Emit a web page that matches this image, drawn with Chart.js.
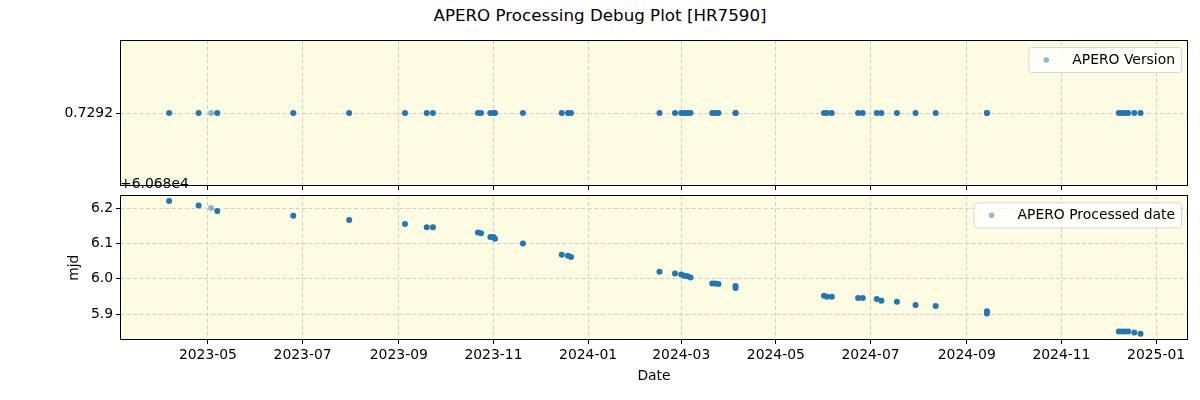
<!DOCTYPE html>
<html lang="en">
<head>
  <meta charset="UTF-8">
  <title>APERO Processing Debug Plot [HR7590]</title>
  <script src="https://cdn.jsdelivr.net/npm/chart.js"></script>
  <style>
    body { margin: 0; background: #ffffff; }
    #wrap { position: relative; width: 1200px; height: 400px; font-family: "DejaVu Sans", sans-serif; }
    #wrap canvas { position: absolute; left: 0; }
    #title { position: absolute; top: 5px; left: 0; width: 1200px; text-align: center; font-size: 16.7px; color: #000; }
    #offset { position: absolute; top: 175px; left: 120px; font-size: 13.9px; color: #000; z-index: 5; }
  </style>
</head>
<body>
  <div id="wrap">
    <div id="title">APERO Processing Debug Plot [HR7590]</div>
    <canvas id="versionChart" width="1200" height="200" style="top:0"></canvas>
    <canvas id="mjdChart" width="1200" height="216" style="top:184px"></canvas>
    <div id="offset">+6.068e4</div>
  </div>

  <script>
    // observation dates (one entry per processed file)
    const obsDates = [
      '2023-04-06', '2023-04-25', '2023-05-03', '2023-05-07', '2023-06-25', '2023-07-31',
      '2023-09-05', '2023-09-19', '2023-09-23', '2023-10-22', '2023-10-24', '2023-10-30',
      '2023-11-01', '2023-11-02', '2023-11-20', '2023-12-15', '2023-12-19', '2023-12-21',
      '2024-02-16', '2024-02-26', '2024-03-01', '2024-03-03', '2024-03-05', '2024-03-07',
      '2024-03-21', '2024-03-23', '2024-03-25', '2024-04-05', '2024-04-05', '2024-06-01',
      '2024-06-03', '2024-06-06', '2024-06-23', '2024-06-26', '2024-07-05', '2024-07-08',
      '2024-07-18', '2024-07-30', '2024-08-12', '2024-09-14', '2024-09-14', '2024-12-08',
      '2024-12-10', '2024-12-12', '2024-12-14', '2024-12-18', '2024-12-22'
    ];

    // APERO version per file
    const versionValues = [
      0.7292, 0.7292, 0.7292, 0.7292, 0.7292, 0.7292, 0.7292, 0.7292, 0.7292, 0.7292,
      0.7292, 0.7292, 0.7292, 0.7292, 0.7292, 0.7292, 0.7292, 0.7292, 0.7292, 0.7292,
      0.7292, 0.7292, 0.7292, 0.7292, 0.7292, 0.7292, 0.7292, 0.7292, 0.7292, 0.7292,
      0.7292, 0.7292, 0.7292, 0.7292, 0.7292, 0.7292, 0.7292, 0.7292, 0.7292, 0.7292,
      0.7292, 0.7292, 0.7292, 0.7292, 0.7292, 0.7292, 0.7292
    ];

    // APERO processed date (mjd)
    const processedMjd = [
      60686.220, 60686.207, 60686.200, 60686.192, 60686.178, 60686.166,
      60686.155, 60686.146, 60686.146, 60686.131, 60686.129, 60686.118,
      60686.118, 60686.113, 60686.100, 60686.068, 60686.065, 60686.062,
      60686.020, 60686.015, 60686.012, 60686.009, 60686.007, 60686.004,
      60685.987, 60685.987, 60685.985, 60685.980, 60685.974, 60685.952,
      60685.949, 60685.949, 60685.946, 60685.946, 60685.943, 60685.938,
      60685.935, 60685.926, 60685.923, 60685.908, 60685.902, 60685.851,
      60685.851, 60685.851, 60685.851, 60685.848, 60685.845
    ];

    // how many files sit on top of each other at that point (1 = lone, lighter dot)
    const overlap = [
      2, 2, 1, 2, 2, 2, 2, 2, 2, 2, 2, 2, 2, 2, 2, 2, 2, 2, 2, 2, 2, 2, 2, 2,
      2, 2, 2, 2, 2, 2, 2, 2, 2, 2, 2, 2, 2, 2, 2, 2, 2, 2, 2, 2, 2, 2, 2
    ];

    const monthTicks = [
      '2023-05-01', '2023-07-01', '2023-09-01', '2023-11-01', '2024-01-01', '2024-03-01',
      '2024-05-01', '2024-07-01', '2024-09-01', '2024-11-01', '2025-01-01'
    ];
    const mjdTicks = [60685.9, 60686.0, 60686.1, 60686.2];
    const mjdOffset = 60680;

    const xMin = Date.parse('2023-03-05T08:00:00Z');
    const xMax = Date.parse('2025-01-21T14:00:00Z');

    const FONT = 'DejaVu Sans';
    const BLUE = 'rgba(31,119,180,1)';
    const BLUE_LIGHT = 'rgba(31,119,180,0.5)';

    function pointColor(ctx) {
      return overlap[ctx.dataIndex] > 1 ? BLUE : BLUE_LIGHT;
    }

    function fmtMonth(v) {
      const d = new Date(v);
      const m = String(d.getUTCMonth() + 1).padStart(2, '0');
      return d.getUTCFullYear() + '-' + m;
    }

    // background colour + black frame around the plot area
    const framePlugin = {
      id: 'frame',
      beforeDraw(chart) {
        const a = chart.chartArea, c = chart.ctx;
        c.save();
        c.fillStyle = '#fdfce2';
        c.fillRect(a.left, a.top, a.right - a.left, a.bottom - a.top);
        c.restore();
      },
      afterDraw(chart) {
        const a = chart.chartArea, c = chart.ctx;
        c.save();
        c.strokeStyle = '#000';
        c.lineWidth = 1;
        c.strokeRect(Math.round(a.left) + 0.5, Math.round(a.top) + 0.5,
          Math.round(a.right - a.left) - 1, Math.round(a.bottom - a.top) - 1);
        c.restore();
      }
    };

    // matplotlib style legend box in the upper right corner
    const boxLegend = {
      id: 'boxLegend',
      afterDraw(chart, args, opts) {
        const a = chart.chartArea, c = chart.ctx;
        c.save();
        c.font = '13.9px "' + FONT + '"';
        const tw = c.measureText(opts.text).width;
        const w = 44 + tw + 6;
        const h = 25;
        const x = a.right - 7 - w;
        const y = a.top + 7;
        c.beginPath();
        c.roundRect(x + 0.5, y + 0.5, w, h, 3);
        c.fillStyle = 'rgba(255,255,255,0.8)';
        c.fill();
        c.strokeStyle = '#d6d6d6';
        c.lineWidth = 1;
        c.stroke();
        c.beginPath();
        c.arc(x + 18, y + h / 2 + 0.5, 2.8, 0, Math.PI * 2);
        c.fillStyle = BLUE_LIGHT;
        c.fill();
        c.fillStyle = '#000';
        c.textBaseline = 'middle';
        c.fillText(opts.text, x + 44, y + h / 2 + 1);
        c.restore();
      }
    };

    const GRID_COLOR = '#cfcfcf';
    const GRID_DASH = [4, 2.5];

    function xScale(showLabels, height) {
      return {
        type: 'linear',
        min: xMin,
        max: xMax,
        afterBuildTicks: s => { s.ticks = monthTicks.map(d => ({ value: Date.parse(d) })); },
        afterFit: s => { s.height = height; },
        border: { display: false, dash: GRID_DASH },
        grid: {
          color: GRID_COLOR,
          tickLength: 4,
          tickColor: '#000',
          tickBorderDash: []
        },
        ticks: {
          autoSkip: false,
          maxRotation: 0,
          padding: 3,
          color: '#000',
          font: { family: FONT, size: 13.9 },
          callback: v => showLabels ? fmtMonth(v) : ''
        },
        title: showLabels ? {
          display: true,
          text: 'Date',
          color: '#000',
          font: { family: FONT, size: 13.9 },
          padding: { top: 2, bottom: 4 }
        } : { display: false }
      };
    }

    const gridY = {
      color: GRID_COLOR,
      tickLength: 4,
      tickColor: '#000',
      tickBorderDash: []
    };

    new Chart(document.getElementById('versionChart').getContext('2d'), {
      type: 'scatter',
      data: {
        datasets: [{
          label: 'APERO Version',
          data: obsDates.map((d, i) => ({ x: Date.parse(d), y: versionValues[i] })),
          pointRadius: 3,
          pointHoverRadius: 3,
          pointBorderWidth: 0,
          pointBackgroundColor: pointColor
        }]
      },
      options: {
        responsive: false,
        animation: false,
        devicePixelRatio: 1,
        layout: { padding: { top: 40, left: 0, right: 12, bottom: 0 } },
        plugins: {
          legend: { display: false },
          tooltip: { enabled: false },
          boxLegend: { text: 'APERO Version' }
        },
        scales: {
          x: xScale(false, 14),
          y: {
            min: 0.7292 - 0.001,
            max: 0.7292 + 0.001,
            afterBuildTicks: s => { s.ticks = [{ value: 0.7292 }]; },
            afterFit: s => { s.width = 120; },
            border: { display: false, dash: GRID_DASH },
            grid: gridY,
            ticks: {
              padding: 3,
              color: '#000',
              font: { family: FONT, size: 13.9 },
              callback: v => v.toFixed(4)
            }
          }
        }
      },
      plugins: [framePlugin, boxLegend]
    });

    new Chart(document.getElementById('mjdChart').getContext('2d'), {
      type: 'scatter',
      data: {
        datasets: [{
          label: 'APERO Processed date',
          data: obsDates.map((d, i) => ({ x: Date.parse(d), y: processedMjd[i] })),
          pointRadius: 3,
          pointHoverRadius: 3,
          pointBorderWidth: 0,
          pointBackgroundColor: pointColor
        }]
      },
      options: {
        responsive: false,
        animation: false,
        devicePixelRatio: 1,
        layout: { padding: { top: 4, left: 66, right: 12, bottom: 11 } },
        plugins: {
          legend: { display: false },
          tooltip: { enabled: false },
          boxLegend: { text: 'APERO Processed date' }
        },
        scales: {
          x: xScale(true, 49),
          y: {
            min: 60685.827,
            max: 60686.236,
            afterBuildTicks: s => { s.ticks = mjdTicks.map(v => ({ value: v })); },
            afterFit: s => { s.width = 54; },
            border: { display: false, dash: GRID_DASH },
            grid: gridY,
            ticks: {
              padding: 3,
              color: '#000',
              font: { family: FONT, size: 13.9 },
              callback: v => (v - mjdOffset).toFixed(1)
            },
            title: {
              display: true,
              text: 'mjd',
              color: '#000',
              font: { family: FONT, size: 13.9 },
              padding: { top: 0, bottom: 0 }
            }
          }
        }
      },
      plugins: [framePlugin, boxLegend]
    });
  </script>
</body>
</html>
